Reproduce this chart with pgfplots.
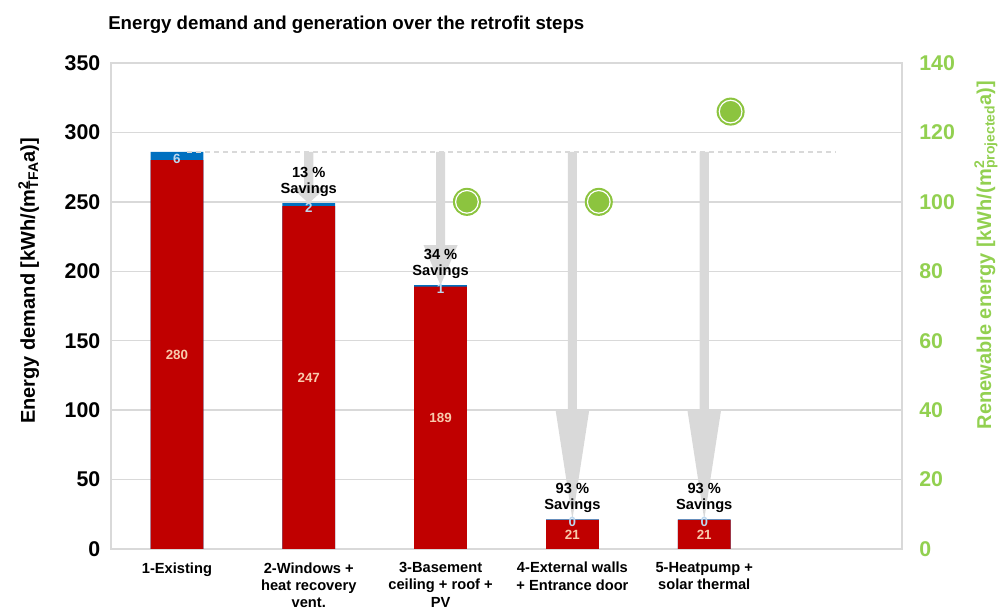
\documentclass[border=0pt]{standalone}
\usepackage{fontspec}
\setmainfont{Liberation Sans}
\usepackage{pgfplots}
\usepackage{pgfplotstable}
\pgfplotsset{compat=1.18}
\definecolor{barred}{HTML}{C00000}
\definecolor{barblue}{HTML}{0070C0}
\definecolor{gridgray}{HTML}{D9D9D9}
\definecolor{arrowgray}{HTML}{D9D9D9}
\definecolor{rengreen}{HTML}{92D050}
\definecolor{circgreen}{HTML}{8CC43F}
\definecolor{peach}{HTML}{F8CBAD}
\definecolor{lblue}{HTML}{BDD7EE}

\pgfplotstableread{
x red blue bluelabel
0 280 6   6
1 247 2   2
2 189 1   1
3 21  0.4 0
4 21  0.4 0
}\demand

\pgfplotstableread{
x total saving
1 249  13
2 190  34
3 21.4 93
4 21.4 93
}\savings

\pgfplotstableread{
x ren
2.2 100
3.2 100
4.2 126
}\renew

% x, top, head start, tip
\newcommand{\savarrow}[4]{%
  \fill[arrowgray] ([xshift=-3.4pt]axis cs:#1,#2) -- ([xshift=3.4pt]axis cs:#1,#2)
   -- ([xshift=3.4pt]axis cs:#1,#3) -- ([xshift=12.75pt]axis cs:#1,#3)
   -- (axis cs:#1,#4) -- ([xshift=-12.75pt]axis cs:#1,#3)
   -- ([xshift=-3.4pt]axis cs:#1,#3) -- cycle;}

\begin{document}
\begin{tikzpicture}
\useasboundingbox (-83.25pt,-45pt) rectangle (669pt,411.75pt);
\begin{axis}[
  at={(0,0)}, anchor=south west,
  scale only axis, width=593.25pt, height=364.5pt,
  xmin=-0.5, xmax=5.5, ymin=0, ymax=350,
  ytick={0,50,...,350},
  xtick={0,...,4},
  xticklabels={1-Existing,{2-Windows +\\heat recovery\\vent.},{3-Basement\\ceiling + roof +\\PV},{4-External walls\\+ Entrance door},{5-Heatpump +\\solar thermal}},
  xticklabel style={align=center, font=\fontsize{11}{13}\selectfont\bfseries, yshift=-6.5pt},
  yticklabel style={font=\fontsize{16}{18}\selectfont\bfseries, xshift=-4.5pt},
  /pgf/number format/assume math mode=true,
  axis line style={gridgray, line width=1pt},
  ymajorgrids, grid style={gridgray, line width=1pt},
  major tick length=0pt,
  every axis y label/.style={at={(axis description cs:-0.104,0.552)}, rotate=90, anchor=center},
  ylabel={Energy demand [kWh/(m\rlap{\textsuperscript{2}}\textsubscript{TFA}a)]},
  ylabel style={font=\fontsize{15}{17}\selectfont\bfseries},
  clip=false,
]
\savarrow{1}{286}{260.1}{249}
\savarrow{2}{286}{218.8}{190}
\savarrow{3}{286}{100.8}{21.4}
\savarrow{4}{286}{100.8}{21.4}

\addplot[ybar, bar width=0.4, bar shift=0pt, fill=barblue, draw=none]
  table[x=x, y expr=\thisrow{red}+\thisrow{blue}] {\demand};
\addplot[ybar, bar width=0.4, bar shift=0pt, fill=barred, draw=none]
  table[x=x, y=red] {\demand};

\draw[gridgray, line width=1pt, dash pattern=on 3.75pt off 3pt] (axis cs:0.08,286) -- (axis cs:5.0,286);

\addplot[only marks, mark=*, mark size=0pt, mark options={draw=none, fill=none},
  nodes near coords, point meta=explicit symbolic,
  nodes near coords style={anchor=center, text=peach, font=\fontsize{10}{12}\selectfont\bfseries}]
  table[x=x, y expr=\thisrow{red}/2, meta=red] {\demand};
\addplot[only marks, mark=*, mark size=0pt, mark options={draw=none, fill=none},
  nodes near coords, point meta=explicit symbolic,
  nodes near coords style={anchor=center, text=lblue, font=\fontsize{10}{12}\selectfont\bfseries}]
  table[x=x, y expr=\thisrow{red}+\thisrow{blue}/2-2, meta=bluelabel] {\demand};
\addplot[only marks, mark=*, mark size=0pt, mark options={draw=none, fill=none},
  nodes near coords={\pgfplotspointmeta\ \%\\Savings}, point meta=explicit symbolic,
  nodes near coords style={anchor=south, align=center, text=black, yshift=1.5pt,
    font=\fontsize{11}{12}\selectfont\bfseries}]
  table[x=x, y=total, meta=saving] {\savings};
\end{axis}

\begin{axis}[
  at={(0,0)}, anchor=south west,
  scale only axis, width=593.25pt, height=364.5pt,
  xmin=-0.5, xmax=5.5, ymin=0, ymax=140,
  axis x line=none, axis y line*=right,
  ytick={0,20,...,140},
  yticklabel style={font=\fontsize{16}{18}\selectfont\bfseries, text=rengreen, xshift=9.5pt},
  /pgf/number format/assume math mode=true,
  axis line style={gridgray, line width=1pt},
  major tick length=0pt,
  every axis y label/.style={at={(axis description cs:1.106,0.605)}, rotate=90, anchor=center},
  ylabel={Renewable energy [kWh/(m\rlap{\textsuperscript{2}}\textsubscript{projected}a)]},
  ylabel style={font=\fontsize{15}{17}\selectfont\bfseries, text=rengreen},
  clip=false,
]
\addplot[only marks, mark=*, mark size=10pt, mark options={fill=circgreen, draw=circgreen, line width=1pt}]
  table[x=x, y=ren] {\renew};
\addplot[only marks, mark=*, mark size=8.5pt, mark options={fill=circgreen, draw=white, line width=0.9pt}]
  table[x=x, y=ren] {\renew};
\end{axis}

\node[anchor=west, font=\fontsize{14}{17}\selectfont\bfseries, inner sep=0pt] at (-2.25pt,393pt)
  {Energy demand and generation over the retrofit steps};
\end{tikzpicture}
\end{document}
